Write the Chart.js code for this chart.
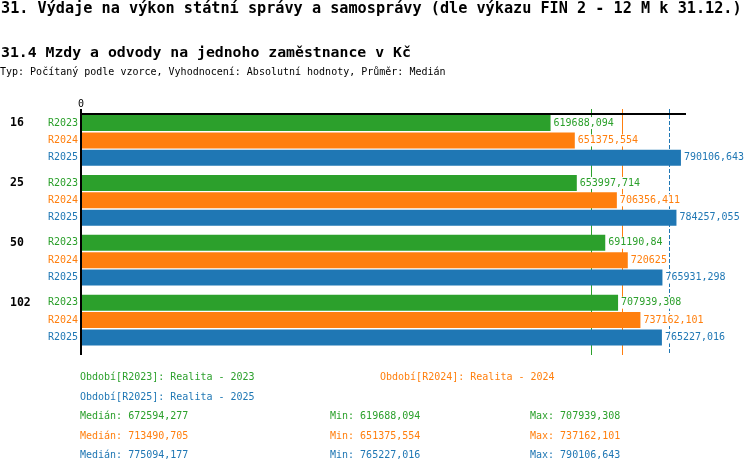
<!DOCTYPE html>
<html>
<head>
<meta charset="utf-8">
<script src="https://cdn.jsdelivr.net/npm/chart.js@4/dist/chart.umd.min.js"></script>
<style>
body { margin: 0; background: #fff; font-family: 'DejaVu Sans Mono', monospace; }
#wrap { position: relative; width: 750px; height: 474px; overflow: hidden; }
#myChart { position: absolute; left: 0; top: 0; }
.t { position: absolute; white-space: pre; line-height: 1; font-size: 10px; }
</style>
</head>
<body>
<div id="wrap">
	<canvas id="myChart" width="750" height="474"></canvas>
	<div class="t" style="left:1px; top:1px; font-size:15.2px; font-weight:bold;">31. Výdaje na výkon státní správy a samosprávy (dle výkazu FIN 2 - 12 M k 31.12.)</div>
	<div class="t" style="left:1px; top:45px; font-size:14.8px; font-weight:bold;">31.4 Mzdy a odvody na jednoho zaměstnance v Kč</div>
	<div class="t" style="left:0px; top:67px;">Typ: Počítaný podle vzorce, Vyhodnocení: Absolutní hodnoty, Průměr: Medián</div>
	<div id="footer"></div>
</div>
<script>
// categories (y axis) and series
var categories = ['16', '25', '50', '102'];
var seriesNames = ['R2023', 'R2024', 'R2025'];
var seriesTitles = ['Realita - 2023', 'Realita - 2024', 'Realita - 2025'];
var seriesColors = ['#2ca02c', '#ff7f0e', '#1f77b4'];

var valuesR2023 = [619688.094, 653997.714, 691190.84, 707939.308];
var valuesR2024 = [651375.554, 706356.411, 720625, 737162.101];
var valuesR2025 = [790106.643, 784257.055, 765931.298, 765227.016];
var seriesValues = [valuesR2023, valuesR2024, valuesR2025];

var zeroTick = '0';

function fmt(v) {
	return String(+v.toFixed(3)).replace('.', ',');
}
function median(arr) {
	var s = arr.slice().sort(function(a, b) { return a - b; });
	var m = Math.floor(s.length / 2);
	return s.length % 2 ? s[m] : (s[m - 1] + s[m]) / 2;
}
var medians = seriesValues.map(median);

var overlay = {
	id: 'overlay',
	beforeDatasetsDraw: function(chart) {
		var ctx = chart.ctx, xs = chart.scales.x;
		ctx.save();
		ctx.lineWidth = 1;
		for (var i = 0; i < medians.length; i++) {
			var px = Math.round(xs.getPixelForValue(medians[i])) + 0.5;
			ctx.strokeStyle = seriesColors[i];
			ctx.setLineDash(i === 2 ? [4, 2] : []);
			ctx.beginPath();
			ctx.moveTo(px, 109);
			ctx.lineTo(px, 355);
			ctx.stroke();
		}
		ctx.restore();
	},
	afterDatasetsDraw: function(chart) {
		var ctx = chart.ctx, area = chart.chartArea;
		ctx.save();
		ctx.font = '10px "DejaVu Sans Mono"';
		ctx.textBaseline = 'middle';
		for (var d = 0; d < chart.data.datasets.length; d++) {
			var meta = chart.getDatasetMeta(d);
			meta.data.forEach(function(bar, i) {
				// series label left of the axis
				ctx.fillStyle = seriesColors[d];
				ctx.textAlign = 'right';
				ctx.fillText(seriesNames[d], area.left - 4, bar.y);
				// value label with white box
				var txt = fmt(seriesValues[d][i]);
				var w = ctx.measureText(txt).width;
				ctx.fillStyle = '#fff';
				ctx.fillRect(bar.x + 2, bar.y - 6, w + 2, 12);
				ctx.fillStyle = seriesColors[d];
				ctx.textAlign = 'left';
				ctx.fillText(txt, bar.x + 3, bar.y);
			});
		}
		// axes
		ctx.strokeStyle = '#000';
		ctx.lineWidth = 2;
		ctx.beginPath();
		ctx.moveTo(area.left - 2, 114);
		ctx.lineTo(area.right, 114);
		ctx.moveTo(area.left - 1, 109);
		ctx.lineTo(area.left - 1, 355);
		ctx.stroke();
		ctx.fillStyle = '#000';
		ctx.textAlign = 'center';
		ctx.fillText(zeroTick, area.left - 1, 104);
		ctx.restore();
	}
};

var datasets = seriesNames.map(function(name, i) {
	return {
		label: name,
		data: seriesValues[i],
		backgroundColor: seriesColors[i],
		categoryPercentage: 0.871,
		barPercentage: 0.92
	};
});

var ctx = document.getElementById('myChart').getContext('2d');
var chart = new Chart(ctx, {
	type: 'bar',
	data: { labels: categories, datasets: datasets },
	options: {
		indexAxis: 'y',
		responsive: false,
		animation: false,
		layout: { padding: { left: 10, top: 110.5, right: 64, bottom: 124 } },
		plugins: { legend: { display: false }, tooltip: { enabled: false } },
		scales: {
			x: { type: 'linear', display: false, min: 7190, max: 796732 },
			y: {
				grid: { display: false },
				border: { display: false },
				afterFit: function(scale) { scale.width = 72; },
				ticks: {
					crossAlign: 'far',
					padding: 0,
					color: '#000',
					font: { family: 'DejaVu Sans Mono', size: 11.5, weight: 'bold', lineHeight: '17.4px' },
					callback: function(v, i) { return [categories[i], '', '']; }
				}
			}
		}
	},
	plugins: [overlay]
});

// footer: legend and statistics
var footer = document.getElementById('footer');
function addText(txt, x, y, color) {
	var el = document.createElement('div');
	el.className = 't';
	el.style.left = x + 'px';
	el.style.top = y + 'px';
	el.style.color = color;
	el.textContent = txt;
	footer.appendChild(el);
}
var legendPos = [[80, 372], [380, 372], [80, 391.5]];
for (var i = 0; i < seriesNames.length; i++) {
	addText('Období[' + seriesNames[i] + ']: ' + seriesTitles[i], legendPos[i][0], legendPos[i][1], seriesColors[i]);
	var rowTop = 411 + i * 19.7;
	addText('Medián: ' + fmt(medians[i]), 80, rowTop, seriesColors[i]);
	addText('Min: ' + fmt(Math.min.apply(null, seriesValues[i])), 330, rowTop, seriesColors[i]);
	addText('Max: ' + fmt(Math.max.apply(null, seriesValues[i])), 530, rowTop, seriesColors[i]);
}
</script>
</body>
</html>
